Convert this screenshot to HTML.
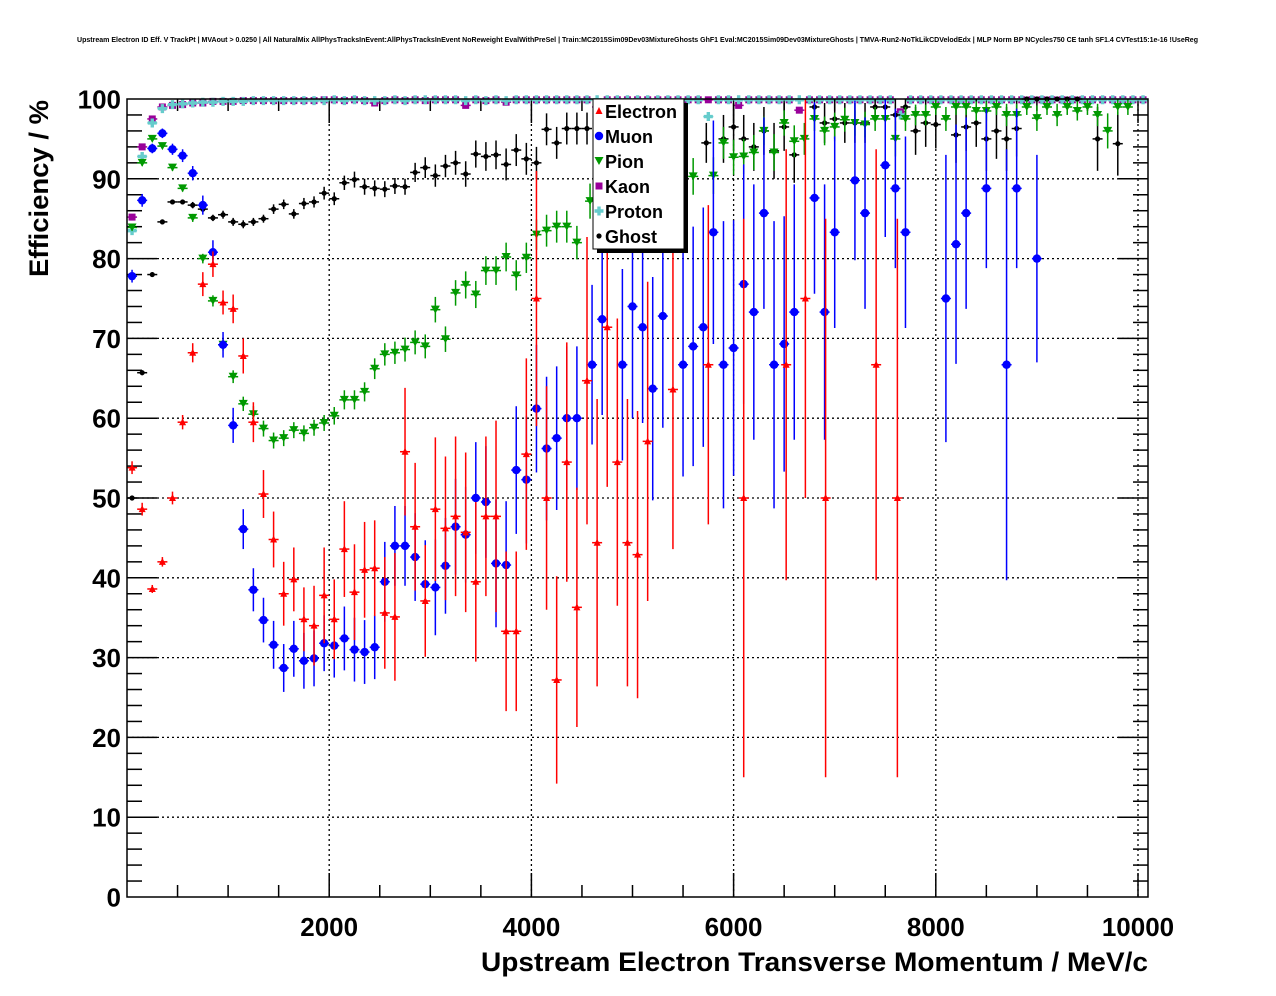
<!DOCTYPE html>
<html><head><meta charset="utf-8">
<style>
html,body{margin:0;padding:0;background:#fff;}
svg{display:block;font-family:"Liberation Sans",sans-serif;}
</style></head>
<body>
<svg id="chart" width="1276" height="996" viewBox="0 0 1276 996" xmlns="http://www.w3.org/2000/svg">
<text x="77" y="42" font-size="7" font-weight="bold" textLength="1121" lengthAdjust="spacingAndGlyphs">Upstream Electron ID Eff. V TrackPt | MVAout &gt; 0.0250 | All NaturalMix AllPhysTracksInEvent:AllPhysTracksInEvent NoReweight EvalWithPreSel | Train:MC2015Sim09Dev03MixtureGhosts GhF1 Eval:MC2015Sim09Dev03MixtureGhosts | TMVA-Run2-NoTkLikCDVelodEdx | MLP Norm BP NCycles750 CE tanh SF1.4 CVTest15:1e-16 !UseReg</text>
<g id="grid"></g>
<g id="axes"></g>
<g id="plot"></g>
<rect x="127" y="99" width="1021" height="798" fill="none" stroke="#000" stroke-width="1.5"/>
<text transform="translate(48,277) rotate(-90)" font-size="27" font-weight="bold" textLength="177" lengthAdjust="spacingAndGlyphs">Efficiency / %</text>
<text x="481" y="971" font-size="27" font-weight="bold" textLength="667" lengthAdjust="spacingAndGlyphs">Upstream Electron Transverse Momentum / MeV/c</text>
<g id="legend">
<rect x="597" y="103" width="91" height="150" fill="#000"/>
<rect x="593" y="99" width="91" height="150" fill="#fff" stroke="#000" stroke-width="1"/>
</g>
</svg>
<script>
// ---------- data ----------
const eleX=[50,150,250,350,450,550,650,750,850,950,1050,1150,1250,1350,1450,1550,1650,1750,1850,1950,2050,2150,2250,2350,2450,2550,2650,2750,2850,2950,3050,3150,3250,3350,3450,3550,3650,3750,3850,3950,4050,4150,4250,4350,4450,4550,4650,4750,4850,4950,5050,5150,5400,5750,6100,6520,6710,6910,7410,7620];
const eleY=[53.8,48.6,38.6,42,50,59.5,68.2,76.8,79.3,74.5,73.7,67.8,59.5,50.5,44.8,38,39.8,34.8,34,37.8,34.8,43.6,38.2,41,41.2,35.6,35.1,55.8,46.4,37.1,48.6,46.2,47.7,45.7,39.5,47.7,47.7,33.3,33.3,55.5,75,50,27.2,54.5,36.3,64.7,44.4,71.4,54.5,44.4,42.9,57.1,63.6,66.7,50,66.7,75,50,66.7,50];
const eleE=[0.8,0.8,0.5,0.6,0.8,0.9,1.2,1.5,1.6,1.5,1.8,2.2,2.5,3,3.5,4,4,4,5,6,5,6,6,6,6,7,8,8,8,7,9,9,10,10,10,10,12,10,10,12,16,14,13,15,15,18,18,20,18,18,18,20,20,20,35,27,25,35,27,35];
const muX=[50,150,250,350,450,550,650,750,850,950,1050,1150,1250,1350,1450,1550,1650,1750,1850,1950,2050,2150,2250,2350,2450,2550,2650,2750,2850,2950,3050,3150,3250,3350,3450,3550,3650,3750,3850,3950,4050,4150,4250,4350,4450,4600,4700,4900,5000,5100,5200,5300,5500,5600,5700,5800,5900,6000,6100,6200,6300,6400,6500,6600,6800,6900,7000,7200,7300,7500,7600,7700,8100,8200,8300,8500,8700,8800,9000];
const muY=[77.8,87.3,93.8,95.7,93.7,92.9,90.7,86.7,80.8,69.2,59.1,46.1,38.5,34.7,31.6,28.7,31.1,29.6,29.9,31.8,31.5,32.4,31,30.7,31.3,39.5,44,44,42.6,39.2,38.8,41.5,46.4,45.4,50,49.5,41.8,41.6,53.5,52.3,61.2,56.2,57.5,60,60,66.7,72.4,66.7,74,71.4,63.7,72.8,66.7,69,71.4,83.3,66.7,68.8,76.8,73.3,85.7,66.7,69.3,73.3,87.6,73.3,83.3,89.8,85.7,91.7,88.8,83.3,75,81.8,85.7,88.8,66.7,88.8,80];
const muE=[0.8,0.8,0.6,0.6,0.7,0.8,0.9,1.2,1.5,1.6,2.2,2.5,2.7,2.8,3,3,3.5,3.5,3.5,3.5,4,4,4,4,4,5,5,5,5.5,5.5,6,6,6,6,7,7,8,8,8,8,8,9,9,9,9,10,12,12,14,12,14,14,14,15,15,14,18,16,15,16,12,18,16,16,12,16,12,10,12,9,10,12,18,15,12,10,27,10,13];
const piX=[50,150,250,350,450,550,650,750,850,950,1050,1150,1250,1350,1450,1550,1650,1750,1850,1950,2050,2150,2250,2350,2450,2550,2650,2750,2850,2950,3050,3150,3250,3350,3450,3550,3650,3750,3850,3950,4050,4150,4250,4350,4450,4580,4680,5600,5800,5900,6000,6100,6200,6300,6400,6500,6600,6700,6800,6900,7000,7100,7200,7300,7400,7500,7600,7700,7800,7900,8000,8100,8200,8300,8400,8500,8600,8700,8800,8900,9000,9100,9200,9300,9400,9500,9600,9700,9800,9900];
const piY=[83.9,92,95,94.1,91.4,88.8,85.1,80,74.7,69.2,65.2,61.8,60.5,58.7,57.2,57.5,58.5,58.1,58.8,59.4,60.3,62.3,62.3,63.3,66.2,68,68.2,68.6,69.5,69,73.6,69.9,75.7,76.7,75.5,78.5,78.5,80.2,77.9,80.1,83,83.5,84,84,82,87.2,89,90.3,90.4,94.5,92.7,92.8,93.3,96,93.3,97,94.7,95,97.5,96,96.5,97.4,97,96.8,97.5,97.5,95,97.5,98,98,99,97.5,99,99,98.5,98.5,99,98,98,99,97.6,99,98,99,98.5,99,98,96,99,99];
const piE=[0.4,0.4,0.3,0.3,0.4,0.4,0.5,0.6,0.7,0.7,0.8,0.9,1,1,1,1,1,1,1,1,1.1,1.2,1.2,1.2,1.3,1.4,1.4,1.5,1.5,1.5,1.6,1.6,1.6,1.7,1.7,1.8,1.8,1.8,1.9,1.9,1.9,2,2,2,2.1,2.2,2.2,2.3,2.3,2,2.2,2.2,2.2,1.8,2.3,1.6,2,2,1.5,1.8,1.8,1.5,1.6,1.6,1.5,1.5,2.2,1.5,1.3,1.3,1,1.5,1,1,1.2,1.2,1,1.4,1.4,1,1.6,1,1.4,1,1.2,1,1.4,2.2,1,1];
const ghX=[50,150,250,350,450,550,650,750,850,950,1050,1150,1250,1350,1450,1550,1650,1750,1850,1950,2050,2150,2250,2350,2450,2550,2650,2750,2850,2950,3050,3150,3250,3350,3450,3550,3650,3750,3850,3950,4050,4150,4250,4350,4450,4550,5730,5900,6000,6100,6200,6300,6400,6500,6600,6800,6900,7000,7100,7200,7300,7400,7500,7600,7700,7800,7900,8000,8200,8300,8400,8500,8600,8700,8800,8900,9000,9100,9200,9300,9400,9600,9800];
const ghY=[50,65.7,78,84.6,87.1,87.1,86.7,86.2,85.1,85.5,84.6,84.3,84.6,85,86.2,86.8,85.6,86.9,87.1,88.2,87.5,89.5,89.9,89,88.8,88.7,89.1,89,90.8,91.4,90.4,91.6,92,90.6,93.1,92.8,93,91.8,93.6,92.5,92,96.2,94.5,96.3,96.3,96.3,94.5,95,96.5,95,94,96,93.5,96.5,93,99,97,97.5,97,97,97,99,99,98,99,96,97,96.8,95.5,96.5,97,95,96,95,96.3,100,100,100,100,100,100,95,94.4];
const ghE=[0.3,0.3,0.3,0.3,0.3,0.3,0.4,0.4,0.4,0.5,0.5,0.5,0.5,0.5,0.6,0.6,0.6,0.7,0.7,0.8,0.8,0.9,1,1,1,1,1,1,1.2,1.3,1.4,1.4,1.5,1.6,1.7,1.8,1.8,2,2,2,2,2,2,2,2,2,2.5,3,3,3,3,3,3.5,3,3.5,1.5,2.5,2.5,2.5,2.5,2.5,1.5,1.5,2,1.5,3,3,3,3.5,3,3,4,3.5,4,3.5,0,0,0,0,0,0,4,4];
const kaY=[85.2,94,97.5,99,99.2,99.3,99.5,99.5,99.7,99.7,99.7,99.8,99.8,99.8,99.8,99.8,99.8,99.8,99.8,99.9,99.9,99.8,99.9,99.8,99.5,99.8,99.9,99.8,99.9,99.8,99.9,99.9,99.9,99.2,99.9,99.8,99.9,99.6,99.9,99.9,99.9,99.9,99.9,99.9,99.9,99.9,99,99.9,99.9,99.9,99.9,99.9,99.9,99.9,99.9,99.9,99.9,99.9,99.9,99.9,99.2,99.9,99.9,99.9,99.9,99.9,98.6,99.9,99.9,99.9,99.9,99.9,99.9,99.9,99.9,99.9,98.4,99.9,99.9,99.9,99.9,99.9,99.9,99.9,99.9,99.9,99.9,99.9,99.9,99.9,99.9,99.9,99.9,99.9,99.9,99.9,99.9,99.9,99.9,99.9,99.9];
const prY=[83.5,92.8,97,98.8,99.3,99.4,99.5,99.6,99.6,99.7,99.7,99.7,99.8,99.8,99.8,99.8,99.8,99.8,99.8,99.8,99.9,99.8,99.9,99.8,99.8,99.8,99.9,99.8,99.9,99.9,99.9,99.9,99.9,99.8,99.9,99.8,99.9,99.8,99.9,99.9,99.9,99.9,99.9,99.9,99.9,99.9,99.9,99.9,99.9,99.9,99.9,99.9,99.9,99.9,99.9,99.9,99.9,97.8,99.9,99.9,99.9,99.9,99.9,99.9,99.9,99.9,99.9,99.9,99.9,99.9,99.9,99.9,99.9,99.9,99.9,99.9,98,99.9,99.9,99.9,99.9,99.9,99.9,99.9,99.9,99.9,99.9,99.9,99.9,99.9,99.9,99.9,99.9,99.9,99.9,99.9,99.9,99.9,99.9,99.9,99.9];
const xTicks=[2000,4000,6000,8000,10000];
const yTicks=[0,10,20,30,40,50,60,70,80,90,100];
const legendNames=["Electron","Muon","Pion","Kaon","Proton","Ghost"];

// ---------- axes ----------
const NS="http://www.w3.org/2000/svg";
const X=m=>127+m*0.1011;
const Y=v=>897-v*7.98;
function el(tag,attrs,parent){const e=document.createElementNS(NS,tag);for(const k in attrs)e.setAttribute(k,attrs[k]);parent.appendChild(e);return e;}
const grid=document.getElementById('grid'),axes=document.getElementById('axes'),plot=document.getElementById('plot');
xTicks.forEach(t=>{
  const g=el('line',{x1:X(t),x2:X(t),y1:99,y2:897,stroke:'#000','stroke-width':1.3,'stroke-dasharray':'2,3'},grid);
  
  
  const lb=el('text',{x:X(t),y:936,'text-anchor':'middle','font-size':26,'font-weight':'bold'},axes);
  lb.textContent=t;
  
  
});
yTicks.forEach(t=>{
  if(t>0&&t<100){const g=el('line',{x1:127,x2:1148,y1:Y(t),y2:Y(t),stroke:'#000','stroke-width':1.3,'stroke-dasharray':'2,3'},grid);
  
  }
  const lb=el('text',{x:121,y:Y(t)+9.5,'text-anchor':'end','font-size':26,'font-weight':'bold'},axes);
  lb.textContent=t;
  
  
});
for(let m=500;m<=10000;m+=500){const L=(m%2000===0)?24:12;
  el('line',{x1:X(m),x2:X(m),y1:897,y2:897-L,stroke:'#000','stroke-width':1.5},axes);
  el('line',{x1:X(m),x2:X(m),y1:99,y2:99+L,stroke:'#000','stroke-width':1.5},axes);}
for(let v=2;v<100;v+=2){const L=(v%10===0)?30:15;
  el('line',{x1:127,x2:127+L,y1:Y(v),y2:Y(v),stroke:'#000','stroke-width':1.5},axes);
  el('line',{x1:1148,x2:1148-L,y1:Y(v),y2:Y(v),stroke:'#000','stroke-width':1.5},axes);}

// ---------- markers ----------
function marker(type,cx,cy,color,parent){
  let m;
  if(type==='tri-up') m=el('polygon',{points:`${cx},${cy-4} ${cx-3.5},${cy+3} ${cx+3.5},${cy+3}`,fill:color},parent);
  else if(type==='tri-down') m=el('polygon',{points:`${cx-4.5},${cy-4} ${cx+4.5},${cy-4} ${cx},${cy+4}`,fill:color},parent);
  else if(type==='circle') m=el('circle',{cx:cx,cy:cy,r:4.2,fill:color},parent);
  else if(type==='square') m=el('rect',{x:cx-3.5,y:cy-3.5,width:7,height:7,fill:color},parent);
  else if(type==='cross') m=el('path',{d:`M${cx-4.5},${cy}H${cx+4.5}M${cx},${cy-4.5}V${cy+4.5}`,stroke:color,'stroke-width':3.4,fill:'none'},parent);
  else m=el('circle',{cx:cx,cy:cy,r:2.6,fill:color},parent);
  return m;
}
function series(xs,ys,es,color,type,name){
  const g=el('g',{},plot);
  
  
  for(let i=0;i<xs.length;i++){
    const cx=X(xs[i]),cy=Y(ys[i]),e=es?es[i]:0.3;
    el('line',{x1:cx-5,x2:cx+5,y1:cy,y2:cy,stroke:color,'stroke-width':1.5},g);
    if(e>0) el('line',{x1:cx,x2:cx,y1:Math.max(99,Y(ys[i]+e)),y2:Y(Math.max(0,ys[i]-e)),stroke:color,'stroke-width':1.5},g);
    const m=marker(type,cx,cy,color,g);
    
    
  }
}
const binX=[];for(let i=0;i<101;i++)binX.push(50+100*i);
series(binX.slice(0,kaY.length),kaY,null,'#990099','square','kaon');
series(binX.slice(0,prY.length),prY,null,'#66cccc','cross','proton');
series(ghX,ghY,ghE,'#000000','diamond','ghost');
series(piX,piY,piE,'#009900','tri-down','pion');
series(muX,muY,muE,'#0000ff','circle','muon');
series(eleX,eleY,eleE,'#ff0000','tri-up','electron');

// ---------- legend ----------
const legend=document.getElementById('legend');
legend.parentNode.appendChild(legend);
const lcolors=['#ff0000','#0000ff','#009900','#990099','#66cccc','#000000'];
const ltypes=['tri-up','circle','tri-down','square','cross','diamond'];
legendNames.forEach((n,i)=>{
  const cy=111+i*25;
  const g=el('g',{},legend);
  
  
  marker(ltypes[i],599,cy,lcolors[i],g);
  const t=el('text',{x:605,y:cy+7,'font-size':18,'font-weight':'bold'},g);
  t.textContent=n;
});
</script>
</body></html>
